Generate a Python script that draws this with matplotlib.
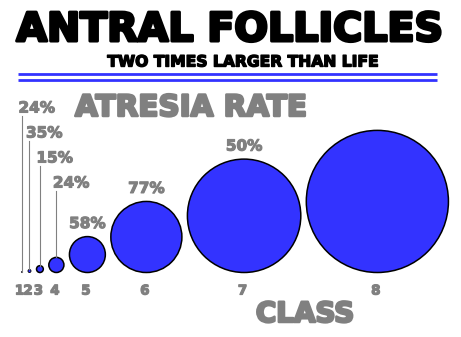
import matplotlib
matplotlib.use("Agg")
import matplotlib.pyplot as plt
import matplotlib.patheffects as pe
from matplotlib.patches import Circle

# follicle classes, diameter (mm, real life) and atresia rate (%)
classes = ["1", "2", "3", "4", "5", "6", "7", "8"]
diameters_mm = [0.13, 0.4, 0.9, 2.0, 4.75, 9.4, 15.0, 18.8]
atresia = [24, 35, 15, 24, 58, 77, 50, None]

BLUE = "#3333ff"
GREY = "#808080"
PX_PER_MM = 7.56  # "two times larger than life" on screen
GAP = 5.5
BASE = 272.5


def heavy(color, w=1.0):
    # fake a heavier display face by stroking the glyphs
    return [pe.withStroke(linewidth=w, foreground=color)]


fig = plt.figure(figsize=(4.61, 3.37), dpi=100)
ax = fig.add_axes([0, 0, 1, 1])
ax.set_xlim(0, 461)
ax.set_ylim(337, 0)
ax.set_aspect("equal")
ax.axis("off")

font = dict(family="DejaVu Sans", fontweight="heavy")

# titles
ax.text(230, 30, "ANTRAL FOLLICLES", ha="center", va="center", fontsize=28.5,
        color="black", path_effects=heavy("black", 2.2), **font)
ax.text(242, 62, "TWO TIMES LARGER THAN LIFE", ha="center", va="center",
        fontsize=11.2, color="black", path_effects=heavy("black", 1.0), **font)
ax.plot([18, 437], [74, 74], color=BLUE, lw=2.0, solid_capstyle="butt")
ax.plot([18, 437], [80, 80], color=BLUE, lw=2.0, solid_capstyle="butt")
ax.text(191, 108, "ATRESIA RATE", ha="center", va="center", fontsize=21.2,
        color=GREY, path_effects=heavy(GREY, 1.8), **font)
ax.text(305, 314, "CLASS", ha="center", va="center", fontsize=20,
        color=GREY, path_effects=heavy(GREY, 1.8), **font)

# circles packed left to right, sitting on a common baseline
centers = []
x = 21.5
for i, (d, rate) in enumerate(zip(diameters_mm, atresia)):
    r = d * PX_PER_MM / 2
    cx = x + r
    cy = BASE - r
    centers.append(cx)
    ax.add_patch(Circle((cx, cy), r, facecolor=BLUE, edgecolor="black",
                        lw=1.1 if r > 2 else 0.6))
    if rate is not None:
        if i < 4:
            ly = 108 + 25 * i
            ax.text(cx - 3.5, ly, f"{rate}%", ha="left", va="center",
                    fontsize=11, color=GREY, path_effects=heavy(GREY, 0.8),
                    **font)
            ax.plot([cx, cx], [ly + 8, cy - r], color=GREY, lw=0.8)
        else:
            ax.text(cx, cy - r - 13, f"{rate}%", ha="center", va="center",
                    fontsize=11, color=GREY, path_effects=heavy(GREY, 0.8),
                    **font)
    x = cx + r + GAP

# class labels under the circles, nudged apart where circles are tiny
label_x = [c - 1.5 for c in centers]
for i in range(len(label_x) - 2, -1, -1):
    label_x[i] = min(label_x[i], label_x[i + 1] - 8.4)
for lx, cls in zip(label_x, classes):
    ax.text(lx, 291, cls, ha="center", va="center", fontsize=9.6,
            color=GREY, path_effects=heavy(GREY, 0.9), **font)

fig.savefig("out.png", dpi=100, facecolor="white")
